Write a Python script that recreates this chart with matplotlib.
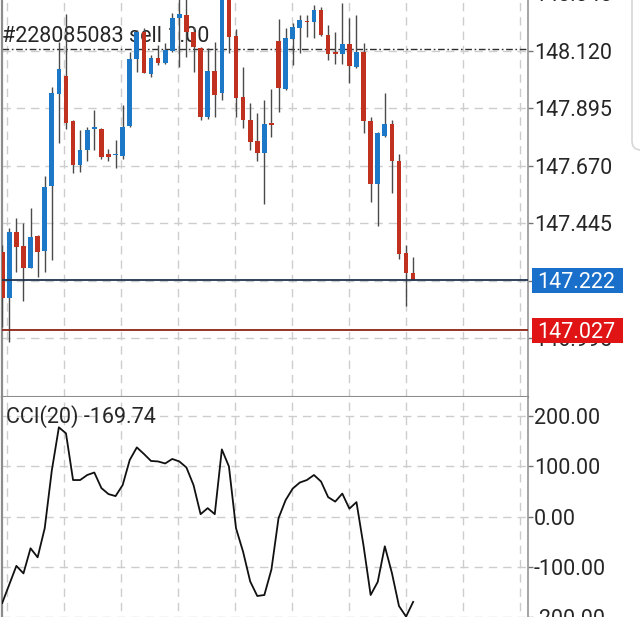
import matplotlib
matplotlib.use("Agg")
import matplotlib.pyplot as plt
import matplotlib.transforms as mtransforms
from matplotlib.patches import Rectangle, FancyBboxPatch
from matplotlib.ticker import FormatStrFormatter
import numpy as np

plt.rcParams['font.family'] = ['Roboto', 'DejaVu Sans']
plt.rcParams['lines.scale_dashes'] = False

# ---------------- data ----------------
opens = [147.334, 147.152, 147.410, 147.356, 147.271, 147.395, 147.337, 147.591, 147.950, 148.023,
         147.846, 147.673, 147.732, 147.815, 147.814, 147.715, 147.712, 147.708, 147.826, 148.086,
         148.195, 148.029, 148.091, 148.073, 148.120, 148.247, 148.260, 148.195, 148.129, 147.860,
         148.042, 147.954, 148.339, 148.178, 147.940, 147.849, 147.768, 147.719, 147.834, 148.159,
         147.969, 148.165, 148.208, 148.238, 148.234, 148.280, 148.182, 148.112, 148.107, 148.145,
         148.058, 148.116, 147.846, 147.599, 147.787, 147.834, 147.690, 147.330, 147.252]
highs = [147.360, 147.425, 147.465, 147.445, 147.504, 147.399, 147.631, 147.977, 148.154, 148.264,
         147.850, 147.810, 147.823, 147.888, 147.818, 147.736, 147.771, 147.908, 148.116, 148.201,
         148.208, 148.104, 148.143, 148.152, 148.267, 148.339, 148.330, 148.215, 148.136, 148.130,
         148.156, 148.378, 148.359, 148.204, 148.058, 147.915, 147.875, 147.927, 147.969, 148.246,
         148.208, 148.228, 148.260, 148.260, 148.299, 148.290, 148.221, 148.195, 148.307, 148.247,
         148.260, 148.149, 147.862, 147.803, 147.954, 147.849, 147.716, 147.360, 147.312]
lows = [147.040, 146.982, 147.256, 147.143, 147.269, 147.234, 147.256, 147.302, 147.758, 147.813,
        147.641, 147.647, 147.690, 147.732, 147.695, 147.689, 147.660, 147.695, 147.823, 148.038,
        148.033, 148.016, 148.064, 148.068, 148.116, 148.058, 148.095, 148.038, 147.849, 147.852,
        147.862, 147.927, 148.110, 147.860, 147.817, 147.732, 147.690, 147.521, 147.782, 147.882,
        147.967, 148.064, 148.110, 148.175, 148.169, 148.178, 148.084, 148.068, 148.068, 147.993,
        148.052, 147.797, 147.530, 147.435, 147.784, 147.565, 147.304, 147.121, 147.222]
closes = [147.152, 147.412, 147.354, 147.269, 147.393, 147.334, 147.588, 147.954, 148.049, 147.839,
          147.673, 147.732, 147.810, 147.822, 147.706, 147.704, 147.714, 147.823, 148.087, 148.195,
          148.034, 148.091, 148.074, 148.123, 148.247, 148.264, 148.195, 148.136, 147.862, 148.042,
          147.947, 148.339, 148.175, 147.934, 147.849, 147.764, 147.721, 147.834, 147.830, 147.973,
          148.169, 148.214, 148.240, 148.232, 148.280, 148.182, 148.107, 148.108, 148.145, 148.060,
          148.116, 147.846, 147.599, 147.797, 147.834, 147.689, 147.325, 147.252, 147.222]
cci = [-172, -135, -98, -113, -63, -81, -23, 92, 178, 166,
       73, 73, 83, 88, 57, 45, 41, 63, 113, 138,
       125, 111, 110, 106, 115, 110, 98, 63, 5, 17,
       5, 134, 100, -23, -70, -129, -158, -156, -105, -3,
       33, 56, 68, 73, 83, 70, 39, 30, 46, 16,
       29, -58, -156, -130, -59, -112, -178, -199, -169.74]

price_ticks = [146.995, 147.220, 147.445, 147.670, 147.895, 148.120, 148.345]
cci_ticks = [200, 100, 0, -100, -200]
order_label = "#228085083 sell 1.00"
order_price = 148.128
blue_level = 147.222
red_level = 147.027
cci_label = "CCI(20) -169.74"

# ---------------- styling ----------------
BLUE = '#1e78c8'
RED = '#c0321f'
WICK = '#4a4a4a'
GRID = '#cdcdcd'
SPINE = '#8c8c8c'
TXT = '#262626'
FS = 15.5

W, H = 640, 624
fig = plt.figure(figsize=(W / 100, H / 100), dpi=100)
fig.patch.set_facecolor('white')


def rect(x0, y_top, x1, y_bot):
    return [x0 / W, 1 - y_bot / H, (x1 - x0) / W, (y_bot - y_top) / H]


P_TOP, P_BOT = -30, 396.5
C_TOP, C_BOT = 396.5, 660
ax = fig.add_axes(rect(1.5, P_TOP, 528, P_BOT))
ax2 = fig.add_axes(rect(1.5, C_TOP, 528, C_BOT), sharex=ax)

x = np.arange(len(opens))
o, h, l, c = map(np.asarray, (opens, highs, lows, closes))
up = c > o
colors = np.where(up, BLUE, RED)

ax.set_xlim(-0.1, 74.21)
ax.set_ylim(146.7675, 148.4361)
ax2.set_ylim(-285.5, 239.4)

grid_x = [57 + 8.045 * k for k in range(-7, 3)]

# candles
ax.vlines(x, l, h, color=WICK, lw=1.0, zorder=3)
ax.bar(x, np.maximum(np.abs(c - o), 0.006), bottom=np.minimum(o, c), width=0.66,
       color=colors, linewidth=0, zorder=4)

# horizontal levels
ax.axhline(order_price, color='#2e2e2e', lw=1.0, linestyle=(0, (4.8, 1.9, 1.2, 1.9)), zorder=2)
ax.axhline(blue_level, color='#22314d', lw=1.3, zorder=5)
ax.axhline(red_level, color='#8e2216', lw=1.3, zorder=5)

ax.annotate(order_label, xy=(0, order_price), xycoords=('axes fraction', 'data'),
            xytext=(1, 6.5), textcoords='offset pixels', va='baseline', ha='left',
            fontsize=FS, color=TXT, zorder=2.5)

# CCI line
ax2.plot(x, cci, color='#111111', lw=1.3, zorder=3)
ax2.text((6 - 1.5) / 526.5, (C_BOT - 423) / (C_BOT - C_TOP), cci_label, transform=ax2.transAxes,
         va='baseline', ha='left', fontsize=FS, color=TXT, zorder=4)

for a, ticks, fmt in ((ax, price_ticks, '%.3f'), (ax2, cci_ticks, '%.2f')):
    a.set_facecolor('white')
    a.set_axisbelow(True)
    a.yaxis.tick_right()
    a.set_yticks(ticks)
    a.yaxis.set_major_formatter(FormatStrFormatter(fmt))
    a.set_xticks(grid_x)
    a.tick_params(axis='x', length=0, labelbottom=False, labeltop=False)
    a.tick_params(axis='y', direction='out', length=3.6, width=1.0, color='#777777',
                  labelsize=FS, labelcolor=TXT, pad=0.6)
    a.grid(True, color=GRID, lw=1.0, linestyle=(0, (6, 4.3)))
    for s in ('left', 'right'):
        a.spines[s].set_color(SPINE)
    a.spines['left'].set_linewidth(1.6)
    a.spines['right'].set_linewidth(1.1)
    a.spines['top'].set_visible(False)

ax.spines['bottom'].set_color(SPINE)
ax.spines['bottom'].set_linewidth(1.5)
ax2.spines['bottom'].set_visible(False)

# price label boxes on the right axis
ppu = (P_BOT - P_TOP) / (148.4361 - 146.7675)   # pixels per price unit
blend = mtransforms.blended_transform_factory(fig.transFigure, ax.transData)
for level, col in ((blue_level, '#1a6fcb'), (red_level, '#e01414')):
    hh = 12.5 / ppu
    ax.add_patch(Rectangle((531.7 / W, level - hh), 91.6 / W, 2 * hh, transform=blend,
                           facecolor=col, edgecolor='none', clip_on=False, zorder=6))
    ax.text(537.5 / W, level, f"{level:.3f}", transform=blend, ha='left', va='center_baseline',
            fontsize=FS, color='white', zorder=7, clip_on=False)

# light panel edge at the right side of the screen
fig.add_artist(FancyBboxPatch((632, H - 150), 60, 220, boxstyle='round,pad=0,rounding_size=9',
                              transform=mtransforms.IdentityTransform(), fill=False,
                              edgecolor='#d6d6d6', lw=1.2))

# screenshot is cut off a few pixels above the bottom edge (white strip)
fig.add_artist(Rectangle((0, 0), 1, 7.3 / H, transform=fig.transFigure, facecolor='white',
                         edgecolor='none', zorder=20))

fig.savefig('out.png', dpi=100, facecolor='white')
